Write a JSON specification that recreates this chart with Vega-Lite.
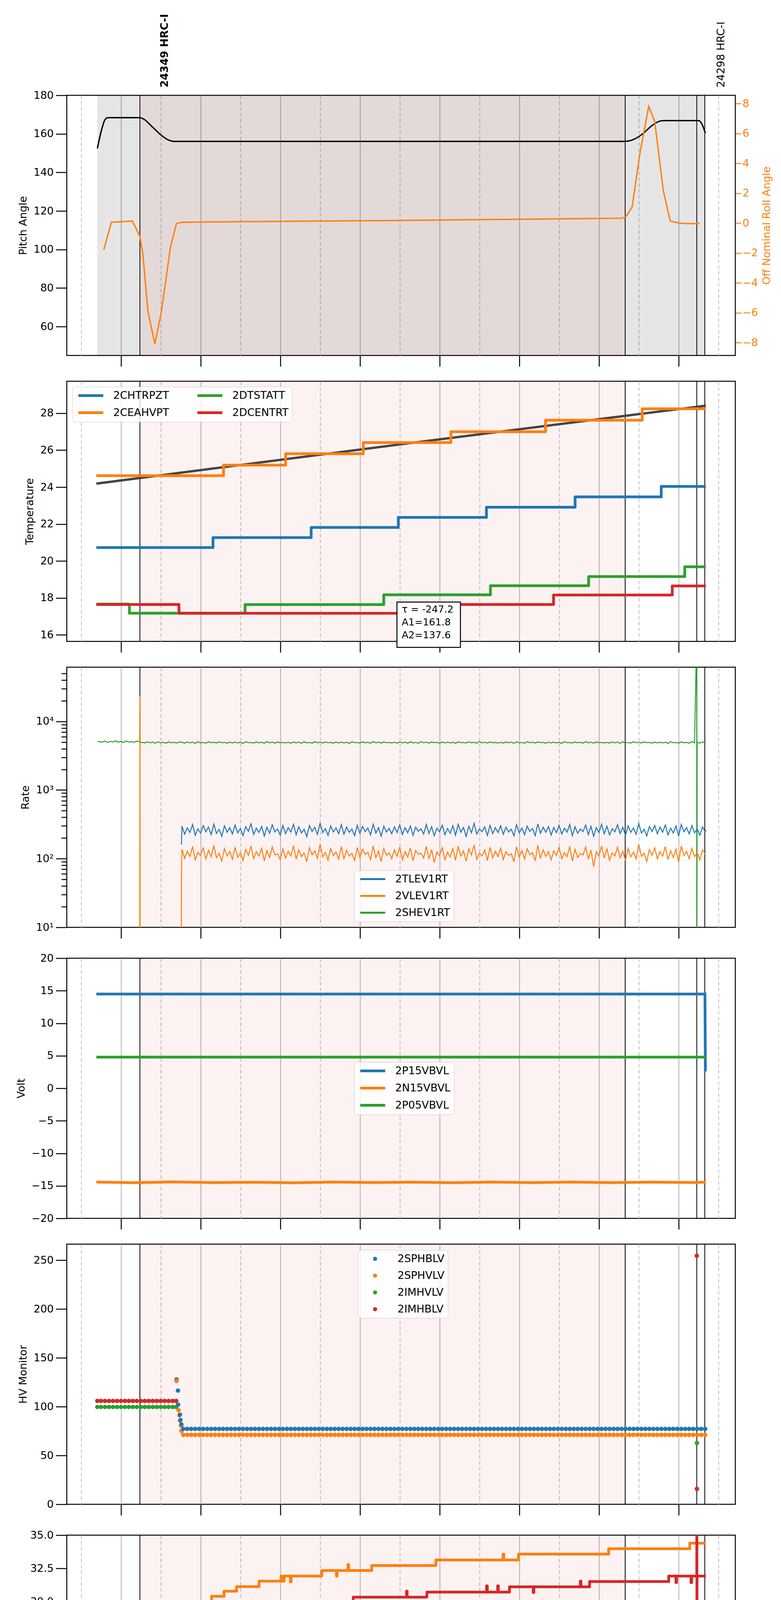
{
"$schema": "https://vega.github.io/schema/vega-lite/v6.json",
"background": "white",
"padding": {"left": 35, "top": 34, "right": 5, "bottom": 0},
"spacing": 32,
"resolve": {"scale": {"color": "independent"}, "legend": {"color": "independent"}},
"config": {
  "font": "DejaVu Sans",
  "view": {"stroke": "black", "strokeWidth": 2.5},
  "axis": {"labelFont": "DejaVu Sans", "labelFontSize": 27, "labelColor": "black", "titleFont": "DejaVu Sans", "titleFontSize": 27, "titleFontWeight": "normal", "titleColor": "black", "tickColor": "black", "tickWidth": 2.5, "tickSize": 28, "domain": false, "grid": false, "labelPadding": 6, "titlePadding": 12},
  "legend": {"labelFont": "DejaVu Sans", "labelFontSize": 27, "labelColor": "black", "fillColor": "rgba(255,255,255,0.8)", "strokeColor": "#cccccc", "cornerRadius": 8, "padding": 9, "rowPadding": 15}
},
"vconcat": [
{
  "width": 1712, "height": 666,
  "encoding": {"x": {"field": "t", "type": "temporal", "scale": {"domain": [{"year": 2021, "month": 9, "date": 10, "hours": 5, "minutes": 19, "seconds": 16}, {"year": 2021, "month": 9, "date": 10, "hours": 13, "minutes": 42, "seconds": 42}]}, "axis": {"tickCount": 17, "grid": true, "gridColor": {"condition": {"test": "minutes(datum.value)==0", "value": "#b0b0b0"}, "value": "#bdbdbd"}, "gridDash": {"condition": {"test": "minutes(datum.value)==0", "value": []}, "value": [9, 6]}, "gridWidth": 2, "tickColor": {"condition": {"test": "minutes(datum.value)==0", "value": "black"}, "value": "transparent"}, "labels": false, "title": null}}},
  "layer": [
    {"data": {"values": [{"t": "2021-09-10T05:42:17", "t2": "2021-09-10T13:19:43"}], "format": {"parse": {"t": "date", "t2": "date"}}}, "mark": {"type": "rect", "color": "black", "opacity": 0.1}, "encoding": {"x2": {"field": "t2"}}},
    {"data": {"values": [{"t": "2021-09-10T06:14:20", "t2": "2021-09-10T12:19:46"}], "format": {"parse": {"t": "date", "t2": "date"}}}, "mark": {"type": "rect", "color": "#d62728", "opacity": 0.06}, "encoding": {"x2": {"field": "t2"}}},
    {"data": {"values": [{"t": "2021-09-10T06:14:20"}, {"t": "2021-09-10T12:19:46"}, {"t": "2021-09-10T13:13:41"}, {"t": "2021-09-10T13:19:43"}], "format": {"parse": {"t": "date"}}}, "mark": {"type": "rule", "color": "black", "strokeWidth": 2}, "encoding": {}},
    {"data": {"values": [
      {"t": "2021-09-10T05:42:17", "v": 152.4}, {"t": "2021-09-10T05:45:18", "v": 161.6}, {"t": "2021-09-10T05:47:56", "v": 167.2}, {"t": "2021-09-10T05:50:12", "v": 168.4}, {"t": "2021-09-10T06:14:20", "v": 168.4}, {"t": "2021-09-10T06:17:21", "v": 167.6}, {"t": "2021-09-10T06:23:00", "v": 164.1}, {"t": "2021-09-10T06:30:33", "v": 159.2}, {"t": "2021-09-10T06:36:12", "v": 156.7}, {"t": "2021-09-10T06:39:58", "v": 156.1}, {"t": "2021-09-10T12:19:46", "v": 156.1}, {"t": "2021-09-10T12:25:47", "v": 157.0}, {"t": "2021-09-10T12:32:35", "v": 159.8}, {"t": "2021-09-10T12:40:07", "v": 164.4}, {"t": "2021-09-10T12:45:47", "v": 166.6}, {"t": "2021-09-10T12:49:33", "v": 166.9}, {"t": "2021-09-10T13:15:12", "v": 166.9}, {"t": "2021-09-10T13:17:50", "v": 164.7}, {"t": "2021-09-10T13:20:06", "v": 160.4}
    ], "format": {"parse": {"t": "date"}}}, "mark": {"type": "line", "color": "black", "strokeWidth": 3.5, "interpolate": "monotone", "clip": true}, "encoding": {"y": {"field": "v", "type": "quantitative", "scale": {"domain": [45, 180]}, "axis": {"orient": "left", "title": "Pitch Angle", "values": [60, 80, 100, 120, 140, 160, 180]}}}},
    {"data": {"values": [{"t": "2021-09-10T06:14:20", "v": 184.06, "label": "24349 HRC-I"}], "format": {"parse": {"t": "date"}}}, "mark": {"type": "text", "angle": 270, "align": "left", "baseline": "alphabetic", "dy": 72, "fontSize": 27, "fontWeight": "bold", "color": "black"}, "encoding": {"y": {"field": "v", "type": "quantitative", "scale": {"domain": [45, 180]}, "axis": null}, "text": {"field": "label"}}},
    {"data": {"values": [{"t": "2021-09-10T13:13:41", "v": 184.06, "label": "24298 HRC-I"}], "format": {"parse": {"t": "date"}}}, "mark": {"type": "text", "angle": 270, "align": "left", "baseline": "alphabetic", "dy": 71, "fontSize": 27, "color": "black"}, "encoding": {"y": {"field": "v", "type": "quantitative", "scale": {"domain": [45, 180]}, "axis": null}, "text": {"field": "label"}}},
    {"data": {"values": [
      {"t": "2021-09-10T05:47:11", "v": -1.77}, {"t": "2021-09-10T05:52:50", "v": 0.06}, {"t": "2021-09-10T06:08:40", "v": 0.14}, {"t": "2021-09-10T06:14:20", "v": -0.9}, {"t": "2021-09-10T06:16:35", "v": -2.09}, {"t": "2021-09-10T06:20:22", "v": -5.9}, {"t": "2021-09-10T06:25:38", "v": -8.08}, {"t": "2021-09-10T06:30:33", "v": -5.9}, {"t": "2021-09-10T06:37:20", "v": -1.61}, {"t": "2021-09-10T06:41:52", "v": -0.03}, {"t": "2021-09-10T06:45:38", "v": 0.06}, {"t": "2021-09-10T07:30:53", "v": 0.1}, {"t": "2021-09-10T09:31:36", "v": 0.18}, {"t": "2021-09-10T10:47:00", "v": 0.25}, {"t": "2021-09-10T12:17:30", "v": 0.33}, {"t": "2021-09-10T12:20:31", "v": 0.45}, {"t": "2021-09-10T12:25:02", "v": 1.09}, {"t": "2021-09-10T12:30:41", "v": 4.58}, {"t": "2021-09-10T12:37:29", "v": 7.81}, {"t": "2021-09-10T12:42:01", "v": 6.81}, {"t": "2021-09-10T12:48:25", "v": 2.2}, {"t": "2021-09-10T12:53:42", "v": 0.14}, {"t": "2021-09-10T13:00:52", "v": 0.0}, {"t": "2021-09-10T13:06:31", "v": -0.03}, {"t": "2021-09-10T13:15:57", "v": -0.03}
    ], "format": {"parse": {"t": "date"}}}, "mark": {"type": "line", "color": "#ff7f0e", "strokeWidth": 3.5, "clip": true}, "encoding": {"y": {"field": "v", "type": "quantitative", "scale": {"domain": [-8.85, 8.55]}, "axis": {"orient": "right", "title": "Off Nominal Roll Angle", "titleColor": "#ff7f0e", "labelColor": "#ff7f0e", "tickColor": "#ff7f0e", "values": [-8, -6, -4, -2, 0, 2, 4, 6, 8], "tickSize": 15, "labelPadding": 3, "titleAngle": 270, "titleBaseline": "top", "titlePadding": 10}}}}
  ],
  "resolve": {"scale": {"y": "independent"}}
},
{
  "width": 1712, "height": 666,
  "encoding": {"x": {"field": "t", "type": "temporal", "scale": {"domain": [{"year": 2021, "month": 9, "date": 10, "hours": 5, "minutes": 19, "seconds": 16}, {"year": 2021, "month": 9, "date": 10, "hours": 13, "minutes": 42, "seconds": 42}]}, "axis": {"tickCount": 17, "grid": true, "gridColor": {"condition": {"test": "minutes(datum.value)==0", "value": "#b0b0b0"}, "value": "#bdbdbd"}, "gridDash": {"condition": {"test": "minutes(datum.value)==0", "value": []}, "value": [9, 6]}, "gridWidth": 2, "tickColor": {"condition": {"test": "minutes(datum.value)==0", "value": "black"}, "value": "transparent"}, "labels": false, "title": null}}},
  "layer": [
    {"data": {"values": [{"t": "2021-09-10T06:14:20", "t2": "2021-09-10T12:19:46"}], "format": {"parse": {"t": "date", "t2": "date"}}}, "mark": {"type": "rect", "color": "#d62728", "opacity": 0.06}, "encoding": {"x2": {"field": "t2"}}},
    {"data": {"values": [{"t": "2021-09-10T06:14:20"}, {"t": "2021-09-10T12:19:46"}, {"t": "2021-09-10T13:13:41"}, {"t": "2021-09-10T13:19:43"}], "format": {"parse": {"t": "date"}}}, "mark": {"type": "rule", "color": "black", "strokeWidth": 2}, "encoding": {}},
    {"data": {"values": [{"t": "2021-09-10T05:41:31", "v": 24.19}, {"t": "2021-09-10T09:31:00", "v": 26.32}, {"t": "2021-09-10T13:20:29", "v": 28.41}], "format": {"parse": {"t": "date"}}}, "mark": {"type": "line", "color": "#444444", "strokeWidth": 6, "clip": true}, "encoding": {"y": {"field": "v", "type": "quantitative", "scale": {"domain": [15.65, 29.73]}, "axis": {"title": "Temperature", "values": [16, 18, 20, 22, 24, 26, 28]}}}},
    {"data": {"values": [
      {"t": "2021-09-10T05:41:31", "s": "2CHTRPZT", "v": 20.73}, {"t": "2021-09-10T07:09:23", "s": "2CHTRPZT", "v": 21.27}, {"t": "2021-09-10T08:23:18", "s": "2CHTRPZT", "v": 21.82}, {"t": "2021-09-10T09:28:56", "s": "2CHTRPZT", "v": 22.36}, {"t": "2021-09-10T10:35:18", "s": "2CHTRPZT", "v": 22.91}, {"t": "2021-09-10T11:42:03", "s": "2CHTRPZT", "v": 23.47}, {"t": "2021-09-10T12:46:55", "s": "2CHTRPZT", "v": 24.04}, {"t": "2021-09-10T13:20:29", "s": "2CHTRPZT", "v": 24.04},
      {"t": "2021-09-10T05:41:31", "s": "2CEAHVPT", "v": 24.62}, {"t": "2021-09-10T07:17:19", "s": "2CEAHVPT", "v": 25.19}, {"t": "2021-09-10T08:04:04", "s": "2CEAHVPT", "v": 25.81}, {"t": "2021-09-10T09:02:32", "s": "2CEAHVPT", "v": 26.41}, {"t": "2021-09-10T10:08:31", "s": "2CEAHVPT", "v": 27.0}, {"t": "2021-09-10T11:19:48", "s": "2CEAHVPT", "v": 27.62}, {"t": "2021-09-10T12:32:35", "s": "2CEAHVPT", "v": 28.24}, {"t": "2021-09-10T13:20:29", "s": "2CEAHVPT", "v": 28.24},
      {"t": "2021-09-10T05:41:31", "s": "2DTSTATT", "v": 17.67}, {"t": "2021-09-10T06:06:25", "s": "2DTSTATT", "v": 17.18}, {"t": "2021-09-10T07:33:32", "s": "2DTSTATT", "v": 17.64}, {"t": "2021-09-10T09:17:59", "s": "2DTSTATT", "v": 18.17}, {"t": "2021-09-10T10:38:19", "s": "2DTSTATT", "v": 18.66}, {"t": "2021-09-10T11:52:14", "s": "2DTSTATT", "v": 19.16}, {"t": "2021-09-10T13:04:38", "s": "2DTSTATT", "v": 19.69}, {"t": "2021-09-10T13:20:29", "s": "2DTSTATT", "v": 19.69},
      {"t": "2021-09-10T05:41:31", "s": "2DCENTRT", "v": 17.65}, {"t": "2021-09-10T06:43:45", "s": "2DCENTRT", "v": 17.17}, {"t": "2021-09-10T09:54:00", "s": "2DCENTRT", "v": 17.65}, {"t": "2021-09-10T11:25:50", "s": "2DCENTRT", "v": 18.16}, {"t": "2021-09-10T12:55:13", "s": "2DCENTRT", "v": 18.65}, {"t": "2021-09-10T13:20:29", "s": "2DCENTRT", "v": 18.65}
    ], "format": {"parse": {"t": "date"}}}, "mark": {"type": "line", "strokeWidth": 7, "interpolate": "step-after", "strokeJoin": "round", "clip": true}, "encoding": {"y": {"field": "v", "type": "quantitative", "scale": {"domain": [15.65, 29.73]}, "axis": {"title": "Temperature", "values": [16, 18, 20, 22, 24, 26, 28]}}, "color": {"field": "s", "type": "nominal", "scale": {"domain": ["2CHTRPZT", "2CEAHVPT", "2DTSTATT", "2DCENTRT"], "range": ["#1f77b4", "#ff7f0e", "#2ca02c", "#d62728"]}, "legend": {"title": null, "orient": "none", "legendX": 14, "legendY": 14, "columns": 2, "columnPadding": 57, "symbolType": "M-1,0H8.14", "symbolSize": 196, "symbolStrokeWidth": 7, "labelOffset": 69}}}},
    {"data": {"values": [{"t": "2021-09-10T09:27:54", "t2": "2021-09-10T10:15:42", "y": 17.78, "y2": 15.33}], "format": {"parse": {"t": "date", "t2": "date"}}}, "mark": {"type": "rect", "fill": "white", "stroke": "black", "strokeWidth": 2.5}, "encoding": {"x2": {"field": "t2"}, "y": {"field": "y", "type": "quantitative", "scale": {"domain": [15.65, 29.73]}, "axis": {"title": "Temperature", "values": [16, 18, 20, 22, 24, 26, 28]}}, "y2": {"field": "y2"}}},
    {"data": {"values": [{"t": "2021-09-10T09:31:30", "y": 17.64, "label": "τ = -247.2\nA1=161.8\nA2=137.6"}], "format": {"parse": {"t": "date"}}}, "mark": {"type": "text", "align": "left", "baseline": "top", "fontSize": 25, "lineHeight": 33, "lineBreak": "\n", "color": "black"}, "encoding": {"y": {"field": "y", "type": "quantitative", "scale": {"domain": [15.65, 29.73]}, "axis": {"title": "Temperature", "values": [16, 18, 20, 22, 24, 26, 28]}}, "text": {"field": "label"}}}
  ]
},
{
  "width": 1712, "height": 666,
  "encoding": {"x": {"field": "t", "type": "temporal", "scale": {"domain": [{"year": 2021, "month": 9, "date": 10, "hours": 5, "minutes": 19, "seconds": 16}, {"year": 2021, "month": 9, "date": 10, "hours": 13, "minutes": 42, "seconds": 42}]}, "axis": {"tickCount": 17, "grid": true, "gridColor": {"condition": {"test": "minutes(datum.value)==0", "value": "#b0b0b0"}, "value": "#bdbdbd"}, "gridDash": {"condition": {"test": "minutes(datum.value)==0", "value": []}, "value": [9, 6]}, "gridWidth": 2, "tickColor": {"condition": {"test": "minutes(datum.value)==0", "value": "black"}, "value": "transparent"}, "labels": false, "title": null}}},
  "layer": [
    {"data": {"values": [{"t": "2021-09-10T06:14:20", "t2": "2021-09-10T12:19:46"}], "format": {"parse": {"t": "date", "t2": "date"}}}, "mark": {"type": "rect", "color": "#d62728", "opacity": 0.06}, "encoding": {"x2": {"field": "t2"}}},
    {"data": {"values": [{"t": "2021-09-10T06:14:20"}, {"t": "2021-09-10T12:19:46"}, {"t": "2021-09-10T13:13:41"}, {"t": "2021-09-10T13:19:43"}], "format": {"parse": {"t": "date"}}}, "mark": {"type": "rule", "color": "black", "strokeWidth": 2}, "encoding": {}},
    {"data": {"values": [
      {"t": "2021-09-10T05:42:17", "2SHEV1RT": 5080}, {"t": "2021-09-10T05:46:00", "2SHEV1RT": 4990}, {"t": "2021-09-10T05:48:00", "2SHEV1RT": 5160}, {"t": "2021-09-10T05:50:00", "2SHEV1RT": 4940}, {"t": "2021-09-10T05:52:00", "2SHEV1RT": 5120}, {"t": "2021-09-10T05:54:00", "2SHEV1RT": 5000}, {"t": "2021-09-10T05:56:00", "2SHEV1RT": 5210}, {"t": "2021-09-10T05:58:00", "2SHEV1RT": 4960}, {"t": "2021-09-10T06:00:00", "2SHEV1RT": 5100}, {"t": "2021-09-10T06:02:00", "2SHEV1RT": 4920}, {"t": "2021-09-10T06:04:00", "2SHEV1RT": 5180}, {"t": "2021-09-10T06:06:00", "2SHEV1RT": 4980}, {"t": "2021-09-10T06:08:00", "2SHEV1RT": 5070}, {"t": "2021-09-10T06:10:00", "2SHEV1RT": 4950}, {"t": "2021-09-10T06:12:00", "2SHEV1RT": 5150},
      {"t": "2021-09-10T06:14:10", "2SHEV1RT": 5050, "2VLEV1RT": 1}, {"t": "2021-09-10T06:14:20", "2SHEV1RT": 21700, "2VLEV1RT": 23000}, {"t": "2021-09-10T06:14:30", "2SHEV1RT": 4900, "2VLEV1RT": 1},
      {"t": "2021-09-10T06:16:00", "2SHEV1RT": 4960}, {"t": "2021-09-10T06:18:00", "2SHEV1RT": 4850}, {"t": "2021-09-10T06:20:00", "2SHEV1RT": 5020}, {"t": "2021-09-10T06:22:00", "2SHEV1RT": 4880}, {"t": "2021-09-10T06:24:00", "2SHEV1RT": 4990}, {"t": "2021-09-10T06:26:00", "2SHEV1RT": 4810}, {"t": "2021-09-10T06:28:00", "2SHEV1RT": 5040}, {"t": "2021-09-10T06:30:00", "2SHEV1RT": 4870}, {"t": "2021-09-10T06:32:00", "2SHEV1RT": 4950}, {"t": "2021-09-10T06:34:00", "2SHEV1RT": 4800}, {"t": "2021-09-10T06:36:00", "2SHEV1RT": 5030}, {"t": "2021-09-10T06:38:00", "2SHEV1RT": 4860}, {"t": "2021-09-10T06:40:00", "2SHEV1RT": 4970}, {"t": "2021-09-10T06:42:00", "2SHEV1RT": 4830}, {"t": "2021-09-10T06:44:00", "2SHEV1RT": 5000},
      {"t": "2021-09-10T06:45:30", "2VLEV1RT": 1}, {"t": "2021-09-10T06:45:38", "2TLEV1RT": 160, "2VLEV1RT": 53},
      {"t": "2021-09-10T06:46:00", "2TLEV1RT": 298, "2VLEV1RT": 138, "2SHEV1RT": 4950}, {"t": "2021-09-10T06:48:00", "2TLEV1RT": 228, "2VLEV1RT": 101, "2SHEV1RT": 4820}, {"t": "2021-09-10T06:50:00", "2TLEV1RT": 281, "2VLEV1RT": 129, "2SHEV1RT": 5010}, {"t": "2021-09-10T06:52:00", "2TLEV1RT": 241, "2VLEV1RT": 108, "2SHEV1RT": 4870}, {"t": "2021-09-10T06:54:00", "2TLEV1RT": 315, "2VLEV1RT": 151, "2SHEV1RT": 4980}, {"t": "2021-09-10T06:56:00", "2TLEV1RT": 219, "2VLEV1RT": 96, "2SHEV1RT": 4790}, {"t": "2021-09-10T06:58:00", "2TLEV1RT": 272, "2VLEV1RT": 124, "2SHEV1RT": 5040},
      {"t": "2021-09-10T07:00:00", "2TLEV1RT": 236, "2VLEV1RT": 111, "2SHEV1RT": 4860}, {"t": "2021-09-10T07:02:00", "2TLEV1RT": 304, "2VLEV1RT": 144, "2SHEV1RT": 4930}, {"t": "2021-09-10T07:04:00", "2TLEV1RT": 247, "2VLEV1RT": 99, "2SHEV1RT": 4810}, {"t": "2021-09-10T07:06:00", "2TLEV1RT": 289, "2VLEV1RT": 133, "2SHEV1RT": 5060}, {"t": "2021-09-10T07:08:00", "2TLEV1RT": 224, "2VLEV1RT": 106, "2SHEV1RT": 4880}, {"t": "2021-09-10T07:10:00", "2TLEV1RT": 318, "2VLEV1RT": 156, "2SHEV1RT": 4970}, {"t": "2021-09-10T07:12:00", "2TLEV1RT": 233, "2VLEV1RT": 103, "2SHEV1RT": 4830}, {"t": "2021-09-10T07:14:00", "2TLEV1RT": 266, "2VLEV1RT": 119, "2SHEV1RT": 5020}, {"t": "2021-09-10T07:16:00", "2TLEV1RT": 212, "2VLEV1RT": 92, "2SHEV1RT": 4900}, {"t": "2021-09-10T07:18:00", "2TLEV1RT": 301, "2VLEV1RT": 141, "2SHEV1RT": 4940}, {"t": "2021-09-10T07:20:00", "2TLEV1RT": 243, "2VLEV1RT": 110, "2SHEV1RT": 4800}, {"t": "2021-09-10T07:22:00", "2TLEV1RT": 284, "2VLEV1RT": 127, "2SHEV1RT": 5000}, {"t": "2021-09-10T07:24:00", "2TLEV1RT": 229, "2VLEV1RT": 98, "2SHEV1RT": 4850}, {"t": "2021-09-10T07:26:00", "2TLEV1RT": 309, "2VLEV1RT": 147, "2SHEV1RT": 4990}, {"t": "2021-09-10T07:28:00", "2TLEV1RT": 238, "2VLEV1RT": 105, "2SHEV1RT": 4840}, {"t": "2021-09-10T07:30:00", "2TLEV1RT": 275, "2VLEV1RT": 122, "2SHEV1RT": 4960}, {"t": "2021-09-10T07:32:00", "2TLEV1RT": 217, "2VLEV1RT": 94, "2SHEV1RT": 4780}, {"t": "2021-09-10T07:34:00", "2TLEV1RT": 293, "2VLEV1RT": 136, "2SHEV1RT": 5050}, {"t": "2021-09-10T07:36:00", "2TLEV1RT": 250, "2VLEV1RT": 112, "2SHEV1RT": 4890}, {"t": "2021-09-10T07:38:00", "2TLEV1RT": 322, "2VLEV1RT": 153, "2SHEV1RT": 4920}, {"t": "2021-09-10T07:40:00", "2TLEV1RT": 226, "2VLEV1RT": 100, "2SHEV1RT": 4830}, {"t": "2021-09-10T07:42:00", "2TLEV1RT": 279, "2VLEV1RT": 126, "2SHEV1RT": 5030}, {"t": "2021-09-10T07:44:00", "2TLEV1RT": 241, "2VLEV1RT": 109, "2SHEV1RT": 4870}, {"t": "2021-09-10T07:46:00", "2TLEV1RT": 296, "2VLEV1RT": 142, "2SHEV1RT": 4950}, {"t": "2021-09-10T07:48:00", "2TLEV1RT": 214, "2VLEV1RT": 93, "2SHEV1RT": 4810}, {"t": "2021-09-10T07:50:00", "2TLEV1RT": 287, "2VLEV1RT": 131, "2SHEV1RT": 5070}, {"t": "2021-09-10T07:52:00", "2TLEV1RT": 235, "2VLEV1RT": 104, "2SHEV1RT": 4860}, {"t": "2021-09-10T07:54:00", "2TLEV1RT": 312, "2VLEV1RT": 149, "2SHEV1RT": 4980}, {"t": "2021-09-10T07:56:00", "2TLEV1RT": 246, "2VLEV1RT": 113, "2SHEV1RT": 4820}, {"t": "2021-09-10T07:58:00", "2TLEV1RT": 270, "2VLEV1RT": 118, "2SHEV1RT": 5010},
      {"t": "2021-09-10T08:00:00", "2TLEV1RT": 221, "2VLEV1RT": 97, "2SHEV1RT": 4900}, {"t": "2021-09-10T08:02:00", "2TLEV1RT": 305, "2VLEV1RT": 139, "2SHEV1RT": 4930}, {"t": "2021-09-10T08:04:00", "2TLEV1RT": 232, "2VLEV1RT": 102, "2SHEV1RT": 4840}, {"t": "2021-09-10T08:06:00", "2TLEV1RT": 283, "2VLEV1RT": 128, "2SHEV1RT": 4950}, {"t": "2021-09-10T08:08:00", "2TLEV1RT": 244, "2VLEV1RT": 110, "2SHEV1RT": 4820}, {"t": "2021-09-10T08:10:00", "2TLEV1RT": 317, "2VLEV1RT": 155, "2SHEV1RT": 5010}, {"t": "2021-09-10T08:12:00", "2TLEV1RT": 223, "2VLEV1RT": 98, "2SHEV1RT": 4870}, {"t": "2021-09-10T08:14:00", "2TLEV1RT": 291, "2VLEV1RT": 134, "2SHEV1RT": 4980}, {"t": "2021-09-10T08:16:00", "2TLEV1RT": 237, "2VLEV1RT": 107, "2SHEV1RT": 4790}, {"t": "2021-09-10T08:18:00", "2TLEV1RT": 268, "2VLEV1RT": 121, "2SHEV1RT": 5040}, {"t": "2021-09-10T08:20:00", "2TLEV1RT": 210, "2VLEV1RT": 90, "2SHEV1RT": 4860}, {"t": "2021-09-10T08:22:00", "2TLEV1RT": 303, "2VLEV1RT": 145, "2SHEV1RT": 4930}, {"t": "2021-09-10T08:24:00", "2TLEV1RT": 249, "2VLEV1RT": 114, "2SHEV1RT": 4810}, {"t": "2021-09-10T08:26:00", "2TLEV1RT": 286, "2VLEV1RT": 130, "2SHEV1RT": 5060}, {"t": "2021-09-10T08:28:00", "2TLEV1RT": 226, "2VLEV1RT": 101, "2SHEV1RT": 4880}, {"t": "2021-09-10T08:30:00", "2TLEV1RT": 330, "2VLEV1RT": 162, "2SHEV1RT": 4970}, {"t": "2021-09-10T08:32:00", "2TLEV1RT": 239, "2VLEV1RT": 106, "2SHEV1RT": 4830}, {"t": "2021-09-10T08:34:00", "2TLEV1RT": 274, "2VLEV1RT": 123, "2SHEV1RT": 5020}, {"t": "2021-09-10T08:36:00", "2TLEV1RT": 218, "2VLEV1RT": 95, "2SHEV1RT": 4900}, {"t": "2021-09-10T08:38:00", "2TLEV1RT": 299, "2VLEV1RT": 140, "2SHEV1RT": 4940}, {"t": "2021-09-10T08:40:00", "2TLEV1RT": 245, "2VLEV1RT": 111, "2SHEV1RT": 4800}, {"t": "2021-09-10T08:42:00", "2TLEV1RT": 281, "2VLEV1RT": 125, "2SHEV1RT": 5000}, {"t": "2021-09-10T08:44:00", "2TLEV1RT": 231, "2VLEV1RT": 99, "2SHEV1RT": 4850}, {"t": "2021-09-10T08:46:00", "2TLEV1RT": 314, "2VLEV1RT": 150, "2SHEV1RT": 4990}, {"t": "2021-09-10T08:48:00", "2TLEV1RT": 227, "2VLEV1RT": 100, "2SHEV1RT": 4840}, {"t": "2021-09-10T08:50:00", "2TLEV1RT": 289, "2VLEV1RT": 133, "2SHEV1RT": 4960}, {"t": "2021-09-10T08:52:00", "2TLEV1RT": 242, "2VLEV1RT": 109, "2SHEV1RT": 4780}, {"t": "2021-09-10T08:54:00", "2TLEV1RT": 270, "2VLEV1RT": 119, "2SHEV1RT": 5050}, {"t": "2021-09-10T08:56:00", "2TLEV1RT": 216, "2VLEV1RT": 94, "2SHEV1RT": 4890}, {"t": "2021-09-10T08:58:00", "2TLEV1RT": 307, "2VLEV1RT": 146, "2SHEV1RT": 4920},
      {"t": "2021-09-10T09:00:00", "2TLEV1RT": 234, "2VLEV1RT": 104, "2SHEV1RT": 4830}, {"t": "2021-09-10T09:02:00", "2TLEV1RT": 295, "2VLEV1RT": 137, "2SHEV1RT": 5030}, {"t": "2021-09-10T09:04:00", "2TLEV1RT": 248, "2VLEV1RT": 115, "2SHEV1RT": 4870}, {"t": "2021-09-10T09:06:00", "2TLEV1RT": 279, "2VLEV1RT": 124, "2SHEV1RT": 4950}, {"t": "2021-09-10T09:08:00", "2TLEV1RT": 222, "2VLEV1RT": 97, "2SHEV1RT": 4810}, {"t": "2021-09-10T09:10:00", "2TLEV1RT": 319, "2VLEV1RT": 154, "2SHEV1RT": 5070}, {"t": "2021-09-10T09:12:00", "2TLEV1RT": 236, "2VLEV1RT": 103, "2SHEV1RT": 4860}, {"t": "2021-09-10T09:14:00", "2TLEV1RT": 284, "2VLEV1RT": 129, "2SHEV1RT": 4980}, {"t": "2021-09-10T09:16:00", "2TLEV1RT": 213, "2VLEV1RT": 91, "2SHEV1RT": 4820}, {"t": "2021-09-10T09:18:00", "2TLEV1RT": 297, "2VLEV1RT": 141, "2SHEV1RT": 5010}, {"t": "2021-09-10T09:20:00", "2TLEV1RT": 244, "2VLEV1RT": 112, "2SHEV1RT": 4900}, {"t": "2021-09-10T09:22:00", "2TLEV1RT": 276, "2VLEV1RT": 122, "2SHEV1RT": 4930}, {"t": "2021-09-10T09:24:00", "2TLEV1RT": 230, "2VLEV1RT": 100, "2SHEV1RT": 4840}, {"t": "2021-09-10T09:26:00", "2TLEV1RT": 292, "2VLEV1RT": 135, "2SHEV1RT": 4950}, {"t": "2021-09-10T09:28:00", "2TLEV1RT": 240, "2VLEV1RT": 108, "2SHEV1RT": 4820}, {"t": "2021-09-10T09:30:00", "2TLEV1RT": 311, "2VLEV1RT": 148, "2SHEV1RT": 5010}, {"t": "2021-09-10T09:32:00", "2TLEV1RT": 225, "2VLEV1RT": 96, "2SHEV1RT": 4870}, {"t": "2021-09-10T09:34:00", "2TLEV1RT": 282, "2VLEV1RT": 127, "2SHEV1RT": 4980}, {"t": "2021-09-10T09:36:00", "2TLEV1RT": 238, "2VLEV1RT": 105, "2SHEV1RT": 4790}, {"t": "2021-09-10T09:38:00", "2TLEV1RT": 300, "2VLEV1RT": 143, "2SHEV1RT": 5040}, {"t": "2021-09-10T09:40:00", "2TLEV1RT": 219, "2VLEV1RT": 93, "2SHEV1RT": 4860}, {"t": "2021-09-10T09:42:00", "2TLEV1RT": 288, "2VLEV1RT": 132, "2SHEV1RT": 4930}, {"t": "2021-09-10T09:44:00", "2TLEV1RT": 251, "2VLEV1RT": 116, "2SHEV1RT": 4810}, {"t": "2021-09-10T09:46:00", "2TLEV1RT": 272, "2VLEV1RT": 120, "2SHEV1RT": 5060}, {"t": "2021-09-10T09:48:00", "2TLEV1RT": 228, "2VLEV1RT": 102, "2SHEV1RT": 4880}, {"t": "2021-09-10T09:50:00", "2TLEV1RT": 316, "2VLEV1RT": 152, "2SHEV1RT": 4970}, {"t": "2021-09-10T09:52:00", "2TLEV1RT": 233, "2VLEV1RT": 99, "2SHEV1RT": 4830}, {"t": "2021-09-10T09:54:00", "2TLEV1RT": 293, "2VLEV1RT": 136, "2SHEV1RT": 5020}, {"t": "2021-09-10T09:56:00", "2TLEV1RT": 215, "2VLEV1RT": 88, "2SHEV1RT": 4900}, {"t": "2021-09-10T09:58:00", "2TLEV1RT": 279, "2VLEV1RT": 125, "2SHEV1RT": 4940},
      {"t": "2021-09-10T10:00:00", "2TLEV1RT": 246, "2VLEV1RT": 111, "2SHEV1RT": 4800}, {"t": "2021-09-10T10:02:00", "2TLEV1RT": 308, "2VLEV1RT": 145, "2SHEV1RT": 5000}, {"t": "2021-09-10T10:04:00", "2TLEV1RT": 224, "2VLEV1RT": 97, "2SHEV1RT": 4850}, {"t": "2021-09-10T10:06:00", "2TLEV1RT": 276, "2VLEV1RT": 124, "2SHEV1RT": 4990}, {"t": "2021-09-10T10:08:00", "2TLEV1RT": 235, "2VLEV1RT": 106, "2SHEV1RT": 4840}, {"t": "2021-09-10T10:10:00", "2TLEV1RT": 302, "2VLEV1RT": 141, "2SHEV1RT": 4960}, {"t": "2021-09-10T10:12:00", "2TLEV1RT": 220, "2VLEV1RT": 95, "2SHEV1RT": 4780}, {"t": "2021-09-10T10:14:00", "2TLEV1RT": 317, "2VLEV1RT": 152, "2SHEV1RT": 5050}, {"t": "2021-09-10T10:16:00", "2TLEV1RT": 243, "2VLEV1RT": 109, "2SHEV1RT": 4890}, {"t": "2021-09-10T10:18:00", "2TLEV1RT": 285, "2VLEV1RT": 130, "2SHEV1RT": 4920}, {"t": "2021-09-10T10:20:00", "2TLEV1RT": 211, "2VLEV1RT": 92, "2SHEV1RT": 4830}, {"t": "2021-09-10T10:22:00", "2TLEV1RT": 296, "2VLEV1RT": 139, "2SHEV1RT": 5030}, {"t": "2021-09-10T10:24:00", "2TLEV1RT": 238, "2VLEV1RT": 113, "2SHEV1RT": 4870}, {"t": "2021-09-10T10:26:00", "2TLEV1RT": 327, "2VLEV1RT": 158, "2SHEV1RT": 4950}, {"t": "2021-09-10T10:28:00", "2TLEV1RT": 229, "2VLEV1RT": 98, "2SHEV1RT": 4810}, {"t": "2021-09-10T10:30:00", "2TLEV1RT": 271, "2VLEV1RT": 121, "2SHEV1RT": 5070}, {"t": "2021-09-10T10:32:00", "2TLEV1RT": 247, "2VLEV1RT": 110, "2SHEV1RT": 4860}, {"t": "2021-09-10T10:34:00", "2TLEV1RT": 290, "2VLEV1RT": 134, "2SHEV1RT": 4980}, {"t": "2021-09-10T10:36:00", "2TLEV1RT": 218, "2VLEV1RT": 94, "2SHEV1RT": 4820}, {"t": "2021-09-10T10:38:00", "2TLEV1RT": 306, "2VLEV1RT": 147, "2SHEV1RT": 5010}, {"t": "2021-09-10T10:40:00", "2TLEV1RT": 232, "2VLEV1RT": 103, "2SHEV1RT": 4900}, {"t": "2021-09-10T10:42:00", "2TLEV1RT": 283, "2VLEV1RT": 128, "2SHEV1RT": 4930}, {"t": "2021-09-10T10:44:00", "2TLEV1RT": 241, "2VLEV1RT": 107, "2SHEV1RT": 4840}, {"t": "2021-09-10T10:46:00", "2TLEV1RT": 301, "2VLEV1RT": 143, "2SHEV1RT": 4950}, {"t": "2021-09-10T10:48:00", "2TLEV1RT": 226, "2VLEV1RT": 97, "2SHEV1RT": 4820}, {"t": "2021-09-10T10:50:00", "2TLEV1RT": 288, "2VLEV1RT": 126, "2SHEV1RT": 5010}, {"t": "2021-09-10T10:52:00", "2TLEV1RT": 245, "2VLEV1RT": 112, "2SHEV1RT": 4870}, {"t": "2021-09-10T10:54:00", "2TLEV1RT": 269, "2VLEV1RT": 118, "2SHEV1RT": 4980}, {"t": "2021-09-10T10:56:00", "2TLEV1RT": 214, "2VLEV1RT": 90, "2SHEV1RT": 4790}, {"t": "2021-09-10T10:58:00", "2TLEV1RT": 313, "2VLEV1RT": 149, "2SHEV1RT": 5040},
      {"t": "2021-09-10T11:00:00", "2TLEV1RT": 237, "2VLEV1RT": 105, "2SHEV1RT": 4860}, {"t": "2021-09-10T11:02:00", "2TLEV1RT": 280, "2VLEV1RT": 131, "2SHEV1RT": 4930}, {"t": "2021-09-10T11:04:00", "2TLEV1RT": 223, "2VLEV1RT": 99, "2SHEV1RT": 4810}, {"t": "2021-09-10T11:06:00", "2TLEV1RT": 298, "2VLEV1RT": 140, "2SHEV1RT": 5060}, {"t": "2021-09-10T11:08:00", "2TLEV1RT": 250, "2VLEV1RT": 114, "2SHEV1RT": 4880}, {"t": "2021-09-10T11:10:00", "2TLEV1RT": 275, "2VLEV1RT": 123, "2SHEV1RT": 4970}, {"t": "2021-09-10T11:12:00", "2TLEV1RT": 217, "2VLEV1RT": 93, "2SHEV1RT": 4830}, {"t": "2021-09-10T11:14:00", "2TLEV1RT": 321, "2VLEV1RT": 157, "2SHEV1RT": 5020}, {"t": "2021-09-10T11:16:00", "2TLEV1RT": 234, "2VLEV1RT": 101, "2SHEV1RT": 4900}, {"t": "2021-09-10T11:18:00", "2TLEV1RT": 287, "2VLEV1RT": 135, "2SHEV1RT": 4940}, {"t": "2021-09-10T11:20:00", "2TLEV1RT": 242, "2VLEV1RT": 108, "2SHEV1RT": 4800}, {"t": "2021-09-10T11:22:00", "2TLEV1RT": 294, "2VLEV1RT": 127, "2SHEV1RT": 5000}, {"t": "2021-09-10T11:24:00", "2TLEV1RT": 221, "2VLEV1RT": 96, "2SHEV1RT": 4850}, {"t": "2021-09-10T11:26:00", "2TLEV1RT": 285, "2VLEV1RT": 130, "2SHEV1RT": 4990}, {"t": "2021-09-10T11:28:00", "2TLEV1RT": 239, "2VLEV1RT": 111, "2SHEV1RT": 4840}, {"t": "2021-09-10T11:30:00", "2TLEV1RT": 306, "2VLEV1RT": 146, "2SHEV1RT": 4960}, {"t": "2021-09-10T11:32:00", "2TLEV1RT": 228, "2VLEV1RT": 100, "2SHEV1RT": 4780}, {"t": "2021-09-10T11:34:00", "2TLEV1RT": 278, "2VLEV1RT": 122, "2SHEV1RT": 5050}, {"t": "2021-09-10T11:36:00", "2TLEV1RT": 244, "2VLEV1RT": 107, "2SHEV1RT": 4890}, {"t": "2021-09-10T11:38:00", "2TLEV1RT": 315, "2VLEV1RT": 151, "2SHEV1RT": 4920}, {"t": "2021-09-10T11:40:00", "2TLEV1RT": 216, "2VLEV1RT": 92, "2SHEV1RT": 4830}, {"t": "2021-09-10T11:42:00", "2TLEV1RT": 292, "2VLEV1RT": 137, "2SHEV1RT": 5030}, {"t": "2021-09-10T11:44:00", "2TLEV1RT": 235, "2VLEV1RT": 104, "2SHEV1RT": 4870}, {"t": "2021-09-10T11:46:00", "2TLEV1RT": 270, "2VLEV1RT": 119, "2SHEV1RT": 4950}, {"t": "2021-09-10T11:48:00", "2TLEV1RT": 248, "2VLEV1RT": 113, "2SHEV1RT": 4810}, {"t": "2021-09-10T11:50:00", "2TLEV1RT": 309, "2VLEV1RT": 148, "2SHEV1RT": 5070}, {"t": "2021-09-10T11:52:00", "2TLEV1RT": 225, "2VLEV1RT": 98, "2SHEV1RT": 4860}, {"t": "2021-09-10T11:54:00", "2TLEV1RT": 296, "2VLEV1RT": 133, "2SHEV1RT": 4980}, {"t": "2021-09-10T11:56:00", "2TLEV1RT": 212, "2VLEV1RT": 76, "2SHEV1RT": 4820}, {"t": "2021-09-10T11:58:00", "2TLEV1RT": 283, "2VLEV1RT": 126, "2SHEV1RT": 5010},
      {"t": "2021-09-10T12:00:00", "2TLEV1RT": 240, "2VLEV1RT": 109, "2SHEV1RT": 4900}, {"t": "2021-09-10T12:02:00", "2TLEV1RT": 318, "2VLEV1RT": 153, "2SHEV1RT": 4930}, {"t": "2021-09-10T12:04:00", "2TLEV1RT": 231, "2VLEV1RT": 102, "2SHEV1RT": 4840}, {"t": "2021-09-10T12:06:00", "2TLEV1RT": 297, "2VLEV1RT": 139, "2SHEV1RT": 4950}, {"t": "2021-09-10T12:08:00", "2TLEV1RT": 222, "2VLEV1RT": 95, "2SHEV1RT": 4820}, {"t": "2021-09-10T12:10:00", "2TLEV1RT": 274, "2VLEV1RT": 121, "2SHEV1RT": 5010}, {"t": "2021-09-10T12:12:00", "2TLEV1RT": 246, "2VLEV1RT": 110, "2SHEV1RT": 4870}, {"t": "2021-09-10T12:14:00", "2TLEV1RT": 312, "2VLEV1RT": 147, "2SHEV1RT": 4980}, {"t": "2021-09-10T12:16:00", "2TLEV1RT": 233, "2VLEV1RT": 103, "2SHEV1RT": 4790}, {"t": "2021-09-10T12:18:00", "2TLEV1RT": 287, "2VLEV1RT": 129, "2SHEV1RT": 5040}, {"t": "2021-09-10T12:20:00", "2TLEV1RT": 219, "2VLEV1RT": 94, "2SHEV1RT": 4860}, {"t": "2021-09-10T12:22:00", "2TLEV1RT": 301, "2VLEV1RT": 142, "2SHEV1RT": 4930}, {"t": "2021-09-10T12:24:00", "2TLEV1RT": 242, "2VLEV1RT": 106, "2SHEV1RT": 4810}, {"t": "2021-09-10T12:26:00", "2TLEV1RT": 280, "2VLEV1RT": 125, "2SHEV1RT": 5060}, {"t": "2021-09-10T12:28:00", "2TLEV1RT": 227, "2VLEV1RT": 99, "2SHEV1RT": 4880}, {"t": "2021-09-10T12:30:00", "2TLEV1RT": 325, "2VLEV1RT": 160, "2SHEV1RT": 4970}, {"t": "2021-09-10T12:32:00", "2TLEV1RT": 236, "2VLEV1RT": 108, "2SHEV1RT": 4830}, {"t": "2021-09-10T12:34:00", "2TLEV1RT": 268, "2VLEV1RT": 120, "2SHEV1RT": 5020}, {"t": "2021-09-10T12:36:00", "2TLEV1RT": 215, "2VLEV1RT": 91, "2SHEV1RT": 4900}, {"t": "2021-09-10T12:38:00", "2TLEV1RT": 294, "2VLEV1RT": 136, "2SHEV1RT": 4940}, {"t": "2021-09-10T12:40:00", "2TLEV1RT": 249, "2VLEV1RT": 112, "2SHEV1RT": 4800}, {"t": "2021-09-10T12:42:00", "2TLEV1RT": 305, "2VLEV1RT": 144, "2SHEV1RT": 5000}, {"t": "2021-09-10T12:44:00", "2TLEV1RT": 230, "2VLEV1RT": 100, "2SHEV1RT": 4850}, {"t": "2021-09-10T12:46:00", "2TLEV1RT": 288, "2VLEV1RT": 127, "2SHEV1RT": 4990}, {"t": "2021-09-10T12:48:00", "2TLEV1RT": 243, "2VLEV1RT": 109, "2SHEV1RT": 4840}, {"t": "2021-09-10T12:50:00", "2TLEV1RT": 310, "2VLEV1RT": 150, "2SHEV1RT": 4960}, {"t": "2021-09-10T12:52:00", "2TLEV1RT": 221, "2VLEV1RT": 97, "2SHEV1RT": 4780}, {"t": "2021-09-10T12:54:00", "2TLEV1RT": 279, "2VLEV1RT": 131, "2SHEV1RT": 5050}, {"t": "2021-09-10T12:56:00", "2TLEV1RT": 236, "2VLEV1RT": 104, "2SHEV1RT": 4890}, {"t": "2021-09-10T12:58:00", "2TLEV1RT": 299, "2VLEV1RT": 138, "2SHEV1RT": 4920},
      {"t": "2021-09-10T13:00:00", "2TLEV1RT": 214, "2VLEV1RT": 89, "2SHEV1RT": 4830}, {"t": "2021-09-10T13:02:00", "2TLEV1RT": 316, "2VLEV1RT": 153, "2SHEV1RT": 5030}, {"t": "2021-09-10T13:04:00", "2TLEV1RT": 247, "2VLEV1RT": 111, "2SHEV1RT": 4870}, {"t": "2021-09-10T13:06:00", "2TLEV1RT": 284, "2VLEV1RT": 128, "2SHEV1RT": 4950}, {"t": "2021-09-10T13:08:00", "2TLEV1RT": 229, "2VLEV1RT": 100, "2SHEV1RT": 4810}, {"t": "2021-09-10T13:10:00", "2TLEV1RT": 303, "2VLEV1RT": 141, "2SHEV1RT": 5070}, {"t": "2021-09-10T13:12:00", "2TLEV1RT": 238, "2VLEV1RT": 107, "2SHEV1RT": 4860}, {"t": "2021-09-10T13:13:38", "2SHEV1RT": 200000}, {"t": "2021-09-10T13:13:44", "2SHEV1RT": 1}, {"t": "2021-09-10T13:14:00", "2TLEV1RT": 272, "2VLEV1RT": 123, "2SHEV1RT": 4980}, {"t": "2021-09-10T13:16:00", "2TLEV1RT": 220, "2VLEV1RT": 96, "2SHEV1RT": 4820}, {"t": "2021-09-10T13:18:00", "2TLEV1RT": 291, "2VLEV1RT": 134, "2SHEV1RT": 5010}, {"t": "2021-09-10T13:20:00", "2TLEV1RT": 245, "2VLEV1RT": 118, "2SHEV1RT": 4900}, {"t": "2021-09-10T13:20:29", "2TLEV1RT": 262, "2VLEV1RT": 120, "2SHEV1RT": 4950}
    ], "format": {"parse": {"t": "date"}}},
    "transform": [{"fold": ["2TLEV1RT", "2VLEV1RT", "2SHEV1RT"], "as": ["s", "rate"]}, {"filter": "isValid(datum.rate)"}],
    "mark": {"type": "line", "strokeWidth": 2.5, "clip": true},
    "encoding": {"y": {"field": "rate", "type": "quantitative", "scale": {"type": "log", "domain": [10, 61500]}, "axis": {"title": "Rate", "values": [10, 20, 30, 40, 50, 60, 70, 80, 90, 100, 200, 300, 400, 500, 600, 700, 800, 900, 1000, 2000, 3000, 4000, 5000, 6000, 7000, 8000, 9000, 10000, 20000, 30000, 40000, 50000], "labelExpr": "datum.value==10 ? '10¹' : datum.value==100 ? '10²' : datum.value==1000 ? '10³' : datum.value==10000 ? '10⁴' : ''", "labelOverlap": false, "tickDash": {"condition": {"test": "indexof([10,100,1000,10000], datum.value) >= 0", "value": []}, "value": [14, 100]}}},
      "color": {"field": "s", "type": "nominal", "scale": {"domain": ["2TLEV1RT", "2VLEV1RT", "2SHEV1RT"], "range": ["#1f77b4", "#ff7f0e", "#2ca02c"]}, "legend": {"title": null, "orient": "none", "legendX": 736, "legendY": 520, "symbolType": "M-1,0H8.14", "symbolSize": 196, "symbolStrokeWidth": 5, "labelOffset": 69}}}}
  ]
},
{
  "width": 1712, "height": 666,
  "encoding": {"x": {"field": "t", "type": "temporal", "scale": {"domain": [{"year": 2021, "month": 9, "date": 10, "hours": 5, "minutes": 19, "seconds": 16}, {"year": 2021, "month": 9, "date": 10, "hours": 13, "minutes": 42, "seconds": 42}]}, "axis": {"tickCount": 17, "grid": true, "gridColor": {"condition": {"test": "minutes(datum.value)==0", "value": "#b0b0b0"}, "value": "#bdbdbd"}, "gridDash": {"condition": {"test": "minutes(datum.value)==0", "value": []}, "value": [9, 6]}, "gridWidth": 2, "tickColor": {"condition": {"test": "minutes(datum.value)==0", "value": "black"}, "value": "transparent"}, "labels": false, "title": null}}},
  "layer": [
    {"data": {"values": [{"t": "2021-09-10T06:14:20", "t2": "2021-09-10T12:19:46"}], "format": {"parse": {"t": "date", "t2": "date"}}}, "mark": {"type": "rect", "color": "#d62728", "opacity": 0.06}, "encoding": {"x2": {"field": "t2"}}},
    {"data": {"values": [{"t": "2021-09-10T06:14:20"}, {"t": "2021-09-10T12:19:46"}, {"t": "2021-09-10T13:13:41"}, {"t": "2021-09-10T13:19:43"}], "format": {"parse": {"t": "date"}}}, "mark": {"type": "rule", "color": "black", "strokeWidth": 2}, "encoding": {}},
    {"data": {"values": [
      {"t": "2021-09-10T05:41:31", "s": "2P15VBVL", "v": 14.49}, {"t": "2021-09-10T13:19:50", "s": "2P15VBVL", "v": 14.49}, {"t": "2021-09-10T13:20:10", "s": "2P15VBVL", "v": 2.6},
      {"t": "2021-09-10T05:41:31", "s": "2N15VBVL", "v": -14.42}, {"t": "2021-09-10T06:10:00", "s": "2N15VBVL", "v": -14.52}, {"t": "2021-09-10T06:40:00", "s": "2N15VBVL", "v": -14.4}, {"t": "2021-09-10T07:10:00", "s": "2N15VBVL", "v": -14.5}, {"t": "2021-09-10T07:40:00", "s": "2N15VBVL", "v": -14.44}, {"t": "2021-09-10T08:10:00", "s": "2N15VBVL", "v": -14.53}, {"t": "2021-09-10T08:40:00", "s": "2N15VBVL", "v": -14.41}, {"t": "2021-09-10T09:10:00", "s": "2N15VBVL", "v": -14.49}, {"t": "2021-09-10T09:40:00", "s": "2N15VBVL", "v": -14.43}, {"t": "2021-09-10T10:10:00", "s": "2N15VBVL", "v": -14.52}, {"t": "2021-09-10T10:40:00", "s": "2N15VBVL", "v": -14.42}, {"t": "2021-09-10T11:10:00", "s": "2N15VBVL", "v": -14.5}, {"t": "2021-09-10T11:40:00", "s": "2N15VBVL", "v": -14.41}, {"t": "2021-09-10T12:10:00", "s": "2N15VBVL", "v": -14.51}, {"t": "2021-09-10T12:40:00", "s": "2N15VBVL", "v": -14.43}, {"t": "2021-09-10T13:10:00", "s": "2N15VBVL", "v": -14.49}, {"t": "2021-09-10T13:20:29", "s": "2N15VBVL", "v": -14.44},
      {"t": "2021-09-10T05:41:31", "s": "2P05VBVL", "v": 4.79}, {"t": "2021-09-10T13:20:29", "s": "2P05VBVL", "v": 4.79}
    ], "format": {"parse": {"t": "date"}}}, "mark": {"type": "line", "strokeWidth": 7, "clip": true}, "encoding": {"y": {"field": "v", "type": "quantitative", "scale": {"domain": [-20, 20]}, "axis": {"title": "Volt", "values": [-20, -15, -10, -5, 0, 5, 10, 15, 20]}}, "color": {"field": "s", "type": "nominal", "scale": {"domain": ["2P15VBVL", "2N15VBVL", "2P05VBVL"], "range": ["#1f77b4", "#ff7f0e", "#2ca02c"]}, "legend": {"title": null, "orient": "none", "legendX": 736, "legendY": 266, "symbolType": "M-1,0H8.14", "symbolSize": 196, "symbolStrokeWidth": 7, "labelOffset": 69}}}}
  ]
},
{
  "width": 1712, "height": 666,
  "encoding": {"x": {"field": "t", "type": "temporal", "scale": {"domain": [{"year": 2021, "month": 9, "date": 10, "hours": 5, "minutes": 19, "seconds": 16}, {"year": 2021, "month": 9, "date": 10, "hours": 13, "minutes": 42, "seconds": 42}]}, "axis": {"tickCount": 17, "grid": true, "gridColor": {"condition": {"test": "minutes(datum.value)==0", "value": "#b0b0b0"}, "value": "#bdbdbd"}, "gridDash": {"condition": {"test": "minutes(datum.value)==0", "value": []}, "value": [9, 6]}, "gridWidth": 2, "tickColor": {"condition": {"test": "minutes(datum.value)==0", "value": "black"}, "value": "transparent"}, "labels": false, "title": null}}},
  "layer": [
    {"data": {"values": [{"t": "2021-09-10T06:14:20", "t2": "2021-09-10T12:19:46"}], "format": {"parse": {"t": "date", "t2": "date"}}}, "mark": {"type": "rect", "color": "#d62728", "opacity": 0.06}, "encoding": {"x2": {"field": "t2"}}},
    {"data": {"values": [{"t": "2021-09-10T06:14:20"}, {"t": "2021-09-10T12:19:46"}, {"t": "2021-09-10T13:13:41"}, {"t": "2021-09-10T13:19:43"}], "format": {"parse": {"t": "date"}}}, "mark": {"type": "rule", "color": "black", "strokeWidth": 2}, "encoding": {}},
    {"data": {"values": [
      {"t": "2021-09-10T05:42:17", "2IMHVLV": 99.7, "2IMHBLV": 105.9}, {"t": "2021-09-10T05:45:00", "2IMHVLV": 99.7, "2IMHBLV": 105.9}, {"t": "2021-09-10T05:48:00", "2IMHVLV": 99.7, "2IMHBLV": 105.9}, {"t": "2021-09-10T05:51:00", "2IMHVLV": 99.7, "2IMHBLV": 105.9}, {"t": "2021-09-10T05:54:00", "2IMHVLV": 99.7, "2IMHBLV": 105.9}, {"t": "2021-09-10T05:57:00", "2IMHVLV": 99.7, "2IMHBLV": 105.9}, {"t": "2021-09-10T06:00:00", "2IMHVLV": 99.7, "2IMHBLV": 105.9}, {"t": "2021-09-10T06:03:00", "2IMHVLV": 99.7, "2IMHBLV": 105.9}, {"t": "2021-09-10T06:06:00", "2IMHVLV": 99.7, "2IMHBLV": 105.9}, {"t": "2021-09-10T06:09:00", "2IMHVLV": 99.7, "2IMHBLV": 105.9}, {"t": "2021-09-10T06:12:00", "2IMHVLV": 99.7, "2IMHBLV": 105.9}, {"t": "2021-09-10T06:15:00", "2IMHVLV": 99.7, "2IMHBLV": 105.9}, {"t": "2021-09-10T06:18:00", "2IMHVLV": 99.7, "2IMHBLV": 105.9}, {"t": "2021-09-10T06:21:00", "2IMHVLV": 99.7, "2IMHBLV": 105.9}, {"t": "2021-09-10T06:24:00", "2IMHVLV": 99.7, "2IMHBLV": 105.9}, {"t": "2021-09-10T06:27:00", "2IMHVLV": 99.7, "2IMHBLV": 105.9}, {"t": "2021-09-10T06:30:00", "2IMHVLV": 99.7, "2IMHBLV": 105.9}, {"t": "2021-09-10T06:33:00", "2IMHVLV": 99.7, "2IMHBLV": 105.9}, {"t": "2021-09-10T06:36:00", "2IMHVLV": 99.7, "2IMHBLV": 105.9}, {"t": "2021-09-10T06:39:00", "2IMHVLV": 99.7, "2IMHBLV": 105.9}, {"t": "2021-09-10T06:41:40", "2IMHVLV": 99.7, "2IMHBLV": 105.9},
      {"t": "2021-09-10T06:41:54", "2SPHBLV": 127.9, "2SPHVLV": 126.4}, {"t": "2021-09-10T06:43:00", "2SPHBLV": 116.5}, {"t": "2021-09-10T06:43:06", "2SPHBLV": 102.1}, {"t": "2021-09-10T06:43:24", "2SPHVLV": 96.5}, {"t": "2021-09-10T06:44:06", "2SPHVLV": 91.0}, {"t": "2021-09-10T06:44:30", "2SPHBLV": 91.9, "2SPHVLV": 85.6}, {"t": "2021-09-10T06:44:54", "2SPHBLV": 86.4}, {"t": "2021-09-10T06:45:18", "2SPHVLV": 80.6}, {"t": "2021-09-10T06:45:36", "2SPHBLV": 81.8, "2SPHVLV": 75.1},
      {"t": "2021-09-10T06:47:00", "2SPHBLV": 77.2, "2SPHVLV": 71.1}, {"t": "2021-09-10T06:50:00", "2SPHBLV": 77.2, "2SPHVLV": 71.1}, {"t": "2021-09-10T06:53:00", "2SPHBLV": 77.2, "2SPHVLV": 71.1}, {"t": "2021-09-10T06:56:00", "2SPHBLV": 77.2, "2SPHVLV": 71.1}, {"t": "2021-09-10T06:59:00", "2SPHBLV": 77.2, "2SPHVLV": 71.1},
      {"t": "2021-09-10T07:02:00", "2SPHBLV": 77.2, "2SPHVLV": 71.1}, {"t": "2021-09-10T07:05:00", "2SPHBLV": 77.2, "2SPHVLV": 71.1}, {"t": "2021-09-10T07:08:00", "2SPHBLV": 77.2, "2SPHVLV": 71.1}, {"t": "2021-09-10T07:11:00", "2SPHBLV": 77.2, "2SPHVLV": 71.1}, {"t": "2021-09-10T07:14:00", "2SPHBLV": 77.2, "2SPHVLV": 71.1}, {"t": "2021-09-10T07:17:00", "2SPHBLV": 77.2, "2SPHVLV": 71.1}, {"t": "2021-09-10T07:20:00", "2SPHBLV": 77.2, "2SPHVLV": 71.1}, {"t": "2021-09-10T07:23:00", "2SPHBLV": 77.2, "2SPHVLV": 71.1}, {"t": "2021-09-10T07:26:00", "2SPHBLV": 77.2, "2SPHVLV": 71.1}, {"t": "2021-09-10T07:29:00", "2SPHBLV": 77.2, "2SPHVLV": 71.1}, {"t": "2021-09-10T07:32:00", "2SPHBLV": 77.2, "2SPHVLV": 71.1}, {"t": "2021-09-10T07:35:00", "2SPHBLV": 77.2, "2SPHVLV": 71.1}, {"t": "2021-09-10T07:38:00", "2SPHBLV": 77.2, "2SPHVLV": 71.1}, {"t": "2021-09-10T07:41:00", "2SPHBLV": 77.2, "2SPHVLV": 71.1}, {"t": "2021-09-10T07:44:00", "2SPHBLV": 77.2, "2SPHVLV": 71.1}, {"t": "2021-09-10T07:47:00", "2SPHBLV": 77.2, "2SPHVLV": 71.1}, {"t": "2021-09-10T07:50:00", "2SPHBLV": 77.2, "2SPHVLV": 71.1}, {"t": "2021-09-10T07:53:00", "2SPHBLV": 77.2, "2SPHVLV": 71.1}, {"t": "2021-09-10T07:56:00", "2SPHBLV": 77.2, "2SPHVLV": 71.1}, {"t": "2021-09-10T07:59:00", "2SPHBLV": 77.2, "2SPHVLV": 71.1},
      {"t": "2021-09-10T08:02:00", "2SPHBLV": 77.2, "2SPHVLV": 71.1}, {"t": "2021-09-10T08:05:00", "2SPHBLV": 77.2, "2SPHVLV": 71.1}, {"t": "2021-09-10T08:08:00", "2SPHBLV": 77.2, "2SPHVLV": 71.1}, {"t": "2021-09-10T08:11:00", "2SPHBLV": 77.2, "2SPHVLV": 71.1}, {"t": "2021-09-10T08:14:00", "2SPHBLV": 77.2, "2SPHVLV": 71.1}, {"t": "2021-09-10T08:17:00", "2SPHBLV": 77.2, "2SPHVLV": 71.1}, {"t": "2021-09-10T08:20:00", "2SPHBLV": 77.2, "2SPHVLV": 71.1}, {"t": "2021-09-10T08:23:00", "2SPHBLV": 77.2, "2SPHVLV": 71.1}, {"t": "2021-09-10T08:26:00", "2SPHBLV": 77.2, "2SPHVLV": 71.1}, {"t": "2021-09-10T08:29:00", "2SPHBLV": 77.2, "2SPHVLV": 71.1}, {"t": "2021-09-10T08:32:00", "2SPHBLV": 77.2, "2SPHVLV": 71.1}, {"t": "2021-09-10T08:35:00", "2SPHBLV": 77.2, "2SPHVLV": 71.1}, {"t": "2021-09-10T08:38:00", "2SPHBLV": 77.2, "2SPHVLV": 71.1}, {"t": "2021-09-10T08:41:00", "2SPHBLV": 77.2, "2SPHVLV": 71.1}, {"t": "2021-09-10T08:44:00", "2SPHBLV": 77.2, "2SPHVLV": 71.1}, {"t": "2021-09-10T08:47:00", "2SPHBLV": 77.2, "2SPHVLV": 71.1}, {"t": "2021-09-10T08:50:00", "2SPHBLV": 77.2, "2SPHVLV": 71.1}, {"t": "2021-09-10T08:53:00", "2SPHBLV": 77.2, "2SPHVLV": 71.1}, {"t": "2021-09-10T08:56:00", "2SPHBLV": 77.2, "2SPHVLV": 71.1}, {"t": "2021-09-10T08:59:00", "2SPHBLV": 77.2, "2SPHVLV": 71.1},
      {"t": "2021-09-10T09:02:00", "2SPHBLV": 77.2, "2SPHVLV": 71.1}, {"t": "2021-09-10T09:05:00", "2SPHBLV": 77.2, "2SPHVLV": 71.1}, {"t": "2021-09-10T09:08:00", "2SPHBLV": 77.2, "2SPHVLV": 71.1}, {"t": "2021-09-10T09:11:00", "2SPHBLV": 77.2, "2SPHVLV": 71.1}, {"t": "2021-09-10T09:14:00", "2SPHBLV": 77.2, "2SPHVLV": 71.1}, {"t": "2021-09-10T09:17:00", "2SPHBLV": 77.2, "2SPHVLV": 71.1}, {"t": "2021-09-10T09:20:00", "2SPHBLV": 77.2, "2SPHVLV": 71.1}, {"t": "2021-09-10T09:23:00", "2SPHBLV": 77.2, "2SPHVLV": 71.1}, {"t": "2021-09-10T09:26:00", "2SPHBLV": 77.2, "2SPHVLV": 71.1}, {"t": "2021-09-10T09:29:00", "2SPHBLV": 77.2, "2SPHVLV": 71.1}, {"t": "2021-09-10T09:32:00", "2SPHBLV": 77.2, "2SPHVLV": 71.1}, {"t": "2021-09-10T09:35:00", "2SPHBLV": 77.2, "2SPHVLV": 71.1}, {"t": "2021-09-10T09:38:00", "2SPHBLV": 77.2, "2SPHVLV": 71.1}, {"t": "2021-09-10T09:41:00", "2SPHBLV": 77.2, "2SPHVLV": 71.1}, {"t": "2021-09-10T09:44:00", "2SPHBLV": 77.2, "2SPHVLV": 71.1}, {"t": "2021-09-10T09:47:00", "2SPHBLV": 77.2, "2SPHVLV": 71.1}, {"t": "2021-09-10T09:50:00", "2SPHBLV": 77.2, "2SPHVLV": 71.1}, {"t": "2021-09-10T09:53:00", "2SPHBLV": 77.2, "2SPHVLV": 71.1}, {"t": "2021-09-10T09:56:00", "2SPHBLV": 77.2, "2SPHVLV": 71.1}, {"t": "2021-09-10T09:59:00", "2SPHBLV": 77.2, "2SPHVLV": 71.1},
      {"t": "2021-09-10T10:02:00", "2SPHBLV": 77.2, "2SPHVLV": 71.1}, {"t": "2021-09-10T10:05:00", "2SPHBLV": 77.2, "2SPHVLV": 71.1}, {"t": "2021-09-10T10:08:00", "2SPHBLV": 77.2, "2SPHVLV": 71.1}, {"t": "2021-09-10T10:11:00", "2SPHBLV": 77.2, "2SPHVLV": 71.1}, {"t": "2021-09-10T10:14:00", "2SPHBLV": 77.2, "2SPHVLV": 71.1}, {"t": "2021-09-10T10:17:00", "2SPHBLV": 77.2, "2SPHVLV": 71.1}, {"t": "2021-09-10T10:20:00", "2SPHBLV": 77.2, "2SPHVLV": 71.1}, {"t": "2021-09-10T10:23:00", "2SPHBLV": 77.2, "2SPHVLV": 71.1}, {"t": "2021-09-10T10:26:00", "2SPHBLV": 77.2, "2SPHVLV": 71.1}, {"t": "2021-09-10T10:29:00", "2SPHBLV": 77.2, "2SPHVLV": 71.1}, {"t": "2021-09-10T10:32:00", "2SPHBLV": 77.2, "2SPHVLV": 71.1}, {"t": "2021-09-10T10:35:00", "2SPHBLV": 77.2, "2SPHVLV": 71.1}, {"t": "2021-09-10T10:38:00", "2SPHBLV": 77.2, "2SPHVLV": 71.1}, {"t": "2021-09-10T10:41:00", "2SPHBLV": 77.2, "2SPHVLV": 71.1}, {"t": "2021-09-10T10:44:00", "2SPHBLV": 77.2, "2SPHVLV": 71.1}, {"t": "2021-09-10T10:47:00", "2SPHBLV": 77.2, "2SPHVLV": 71.1}, {"t": "2021-09-10T10:50:00", "2SPHBLV": 77.2, "2SPHVLV": 71.1}, {"t": "2021-09-10T10:53:00", "2SPHBLV": 77.2, "2SPHVLV": 71.1}, {"t": "2021-09-10T10:56:00", "2SPHBLV": 77.2, "2SPHVLV": 71.1}, {"t": "2021-09-10T10:59:00", "2SPHBLV": 77.2, "2SPHVLV": 71.1},
      {"t": "2021-09-10T11:02:00", "2SPHBLV": 77.2, "2SPHVLV": 71.1}, {"t": "2021-09-10T11:05:00", "2SPHBLV": 77.2, "2SPHVLV": 71.1}, {"t": "2021-09-10T11:08:00", "2SPHBLV": 77.2, "2SPHVLV": 71.1}, {"t": "2021-09-10T11:11:00", "2SPHBLV": 77.2, "2SPHVLV": 71.1}, {"t": "2021-09-10T11:14:00", "2SPHBLV": 77.2, "2SPHVLV": 71.1}, {"t": "2021-09-10T11:17:00", "2SPHBLV": 77.2, "2SPHVLV": 71.1}, {"t": "2021-09-10T11:20:00", "2SPHBLV": 77.2, "2SPHVLV": 71.1}, {"t": "2021-09-10T11:23:00", "2SPHBLV": 77.2, "2SPHVLV": 71.1}, {"t": "2021-09-10T11:26:00", "2SPHBLV": 77.2, "2SPHVLV": 71.1}, {"t": "2021-09-10T11:29:00", "2SPHBLV": 77.2, "2SPHVLV": 71.1}, {"t": "2021-09-10T11:32:00", "2SPHBLV": 77.2, "2SPHVLV": 71.1}, {"t": "2021-09-10T11:35:00", "2SPHBLV": 77.2, "2SPHVLV": 71.1}, {"t": "2021-09-10T11:38:00", "2SPHBLV": 77.2, "2SPHVLV": 71.1}, {"t": "2021-09-10T11:41:00", "2SPHBLV": 77.2, "2SPHVLV": 71.1}, {"t": "2021-09-10T11:44:00", "2SPHBLV": 77.2, "2SPHVLV": 71.1}, {"t": "2021-09-10T11:47:00", "2SPHBLV": 77.2, "2SPHVLV": 71.1}, {"t": "2021-09-10T11:50:00", "2SPHBLV": 77.2, "2SPHVLV": 71.1}, {"t": "2021-09-10T11:53:00", "2SPHBLV": 77.2, "2SPHVLV": 71.1}, {"t": "2021-09-10T11:56:00", "2SPHBLV": 77.2, "2SPHVLV": 71.1}, {"t": "2021-09-10T11:59:00", "2SPHBLV": 77.2, "2SPHVLV": 71.1},
      {"t": "2021-09-10T12:02:00", "2SPHBLV": 77.2, "2SPHVLV": 71.1}, {"t": "2021-09-10T12:05:00", "2SPHBLV": 77.2, "2SPHVLV": 71.1}, {"t": "2021-09-10T12:08:00", "2SPHBLV": 77.2, "2SPHVLV": 71.1}, {"t": "2021-09-10T12:11:00", "2SPHBLV": 77.2, "2SPHVLV": 71.1}, {"t": "2021-09-10T12:14:00", "2SPHBLV": 77.2, "2SPHVLV": 71.1}, {"t": "2021-09-10T12:17:00", "2SPHBLV": 77.2, "2SPHVLV": 71.1}, {"t": "2021-09-10T12:20:00", "2SPHBLV": 77.2, "2SPHVLV": 71.1}, {"t": "2021-09-10T12:23:00", "2SPHBLV": 77.2, "2SPHVLV": 71.1}, {"t": "2021-09-10T12:26:00", "2SPHBLV": 77.2, "2SPHVLV": 71.1}, {"t": "2021-09-10T12:29:00", "2SPHBLV": 77.2, "2SPHVLV": 71.1}, {"t": "2021-09-10T12:32:00", "2SPHBLV": 77.2, "2SPHVLV": 71.1}, {"t": "2021-09-10T12:35:00", "2SPHBLV": 77.2, "2SPHVLV": 71.1}, {"t": "2021-09-10T12:38:00", "2SPHBLV": 77.2, "2SPHVLV": 71.1}, {"t": "2021-09-10T12:41:00", "2SPHBLV": 77.2, "2SPHVLV": 71.1}, {"t": "2021-09-10T12:44:00", "2SPHBLV": 77.2, "2SPHVLV": 71.1}, {"t": "2021-09-10T12:47:00", "2SPHBLV": 77.2, "2SPHVLV": 71.1}, {"t": "2021-09-10T12:50:00", "2SPHBLV": 77.2, "2SPHVLV": 71.1}, {"t": "2021-09-10T12:53:00", "2SPHBLV": 77.2, "2SPHVLV": 71.1}, {"t": "2021-09-10T12:56:00", "2SPHBLV": 77.2, "2SPHVLV": 71.1}, {"t": "2021-09-10T12:59:00", "2SPHBLV": 77.2, "2SPHVLV": 71.1},
      {"t": "2021-09-10T13:02:00", "2SPHBLV": 77.2, "2SPHVLV": 71.1}, {"t": "2021-09-10T13:05:00", "2SPHBLV": 77.2, "2SPHVLV": 71.1}, {"t": "2021-09-10T13:08:00", "2SPHBLV": 77.2, "2SPHVLV": 71.1}, {"t": "2021-09-10T13:11:00", "2SPHBLV": 77.2, "2SPHVLV": 71.1}, {"t": "2021-09-10T13:13:41", "2IMHBLV": 254.6}, {"t": "2021-09-10T13:13:47", "2IMHBLV": 15.8, "2IMHVLV": 62.8}, {"t": "2021-09-10T13:14:00", "2SPHBLV": 77.2, "2SPHVLV": 71.1}, {"t": "2021-09-10T13:17:00", "2SPHBLV": 77.2, "2SPHVLV": 71.1}, {"t": "2021-09-10T13:20:00", "2SPHBLV": 77.2, "2SPHVLV": 71.1}
    ], "format": {"parse": {"t": "date"}}},
    "transform": [{"fold": ["2SPHBLV", "2SPHVLV", "2IMHVLV", "2IMHBLV"], "as": ["s", "v"]}, {"filter": "isValid(datum.v)"}],
    "mark": {"type": "point", "filled": true, "size": 130, "opacity": 1, "clip": true},
    "encoding": {"y": {"field": "v", "type": "quantitative", "scale": {"domain": [0, 266.5]}, "axis": {"title": "HV Monitor", "values": [0, 50, 100, 150, 200, 250]}},
      "color": {"field": "s", "type": "nominal", "scale": {"domain": ["2SPHBLV", "2SPHVLV", "2IMHVLV", "2IMHBLV"], "range": ["#1f77b4", "#ff7f0e", "#2ca02c", "#d62728"]}, "legend": {"title": null, "orient": "none", "legendX": 746, "legendY": 15, "symbolType": "circle", "symbolSize": 110, "symbolStrokeWidth": 0, "symbolOffset": 21, "labelOffset": 44}}}}
  ]
},
{
  "width": 1712, "height": 666,
  "encoding": {"x": {"field": "t", "type": "temporal", "scale": {"domain": [{"year": 2021, "month": 9, "date": 10, "hours": 5, "minutes": 19, "seconds": 16}, {"year": 2021, "month": 9, "date": 10, "hours": 13, "minutes": 42, "seconds": 42}]}, "axis": {"tickCount": 17, "grid": true, "gridColor": {"condition": {"test": "minutes(datum.value)==0", "value": "#b0b0b0"}, "value": "#bdbdbd"}, "gridDash": {"condition": {"test": "minutes(datum.value)==0", "value": []}, "value": [9, 6]}, "gridWidth": 2, "tickColor": {"condition": {"test": "minutes(datum.value)==0", "value": "black"}, "value": "transparent"}, "labels": false, "title": null}}},
  "layer": [
    {"data": {"values": [{"t": "2021-09-10T06:14:20", "t2": "2021-09-10T12:19:46"}], "format": {"parse": {"t": "date", "t2": "date"}}}, "mark": {"type": "rect", "color": "#d62728", "opacity": 0.06}, "encoding": {"x2": {"field": "t2"}}},
    {"data": {"values": [{"t": "2021-09-10T06:14:20"}, {"t": "2021-09-10T12:19:46"}, {"t": "2021-09-10T13:13:41"}, {"t": "2021-09-10T13:19:43"}], "format": {"parse": {"t": "date"}}}, "mark": {"type": "rule", "color": "black", "strokeWidth": 2}, "encoding": {}},
    {"data": {"values": [
      {"t": "2021-09-10T05:41:31", "s": "2SPINATM", "v": 16.99}, {"t": "2021-09-10T10:26:45", "s": "2SPINATM", "v": 17.7}, {"t": "2021-09-10T10:27:15", "s": "2SPINATM", "v": 16.99}, {"t": "2021-09-10T10:43:13", "s": "2SPINATM", "v": 17.64}, {"t": "2021-09-10T12:56:10", "s": "2SPINATM", "v": 18.29}, {"t": "2021-09-10T12:56:40", "s": "2SPINATM", "v": 17.64}, {"t": "2021-09-10T12:58:59", "s": "2SPINATM", "v": 18.29}, {"t": "2021-09-10T13:20:29", "s": "2SPINATM", "v": 18.29},
      {"t": "2021-09-10T05:41:31", "s": "2SPHVATM", "v": 29.2}, {"t": "2021-09-10T06:43:45", "s": "2SPHVATM", "v": 28.84}, {"t": "2021-09-10T06:50:32", "s": "2SPHVATM", "v": 29.2}, {"t": "2021-09-10T06:56:57", "s": "2SPHVATM", "v": 29.99}, {"t": "2021-09-10T07:08:16", "s": "2SPHVATM", "v": 30.42}, {"t": "2021-09-10T07:17:41", "s": "2SPHVATM", "v": 30.8}, {"t": "2021-09-10T07:27:07", "s": "2SPHVATM", "v": 31.14}, {"t": "2021-09-10T07:44:05", "s": "2SPHVATM", "v": 31.55}, {"t": "2021-09-10T08:00:40", "s": "2SPHVATM", "v": 31.93}, {"t": "2021-09-10T08:01:30", "s": "2SPHVATM", "v": 31.55}, {"t": "2021-09-10T08:02:57", "s": "2SPHVATM", "v": 31.93}, {"t": "2021-09-10T08:07:40", "s": "2SPHVATM", "v": 31.5}, {"t": "2021-09-10T08:08:10", "s": "2SPHVATM", "v": 31.93}, {"t": "2021-09-10T08:31:14", "s": "2SPHVATM", "v": 32.35}, {"t": "2021-09-10T08:42:20", "s": "2SPHVATM", "v": 31.93}, {"t": "2021-09-10T08:42:50", "s": "2SPHVATM", "v": 32.35}, {"t": "2021-09-10T08:51:00", "s": "2SPHVATM", "v": 32.8}, {"t": "2021-09-10T08:51:30", "s": "2SPHVATM", "v": 32.35}, {"t": "2021-09-10T09:08:56", "s": "2SPHVATM", "v": 32.72}, {"t": "2021-09-10T09:57:13", "s": "2SPHVATM", "v": 33.14}, {"t": "2021-09-10T10:47:50", "s": "2SPHVATM", "v": 33.58}, {"t": "2021-09-10T10:48:20", "s": "2SPHVATM", "v": 33.14}, {"t": "2021-09-10T10:59:26", "s": "2SPHVATM", "v": 33.58}, {"t": "2021-09-10T12:07:19", "s": "2SPHVATM", "v": 33.98}, {"t": "2021-09-10T13:08:24", "s": "2SPHVATM", "v": 34.4}, {"t": "2021-09-10T13:20:29", "s": "2SPHVATM", "v": 34.4},
      {"t": "2021-09-10T05:41:31", "s": "2IMINATM", "v": 17.64}, {"t": "2021-09-10T09:25:09", "s": "2IMINATM", "v": 18.3}, {"t": "2021-09-10T09:33:15", "s": "2IMINATM", "v": 17.64}, {"t": "2021-09-10T09:33:45", "s": "2IMINATM", "v": 18.3}, {"t": "2021-09-10T11:31:07", "s": "2IMINATM", "v": 18.95}, {"t": "2021-09-10T13:20:29", "s": "2IMINATM", "v": 18.95},
      {"t": "2021-09-10T05:41:31", "s": "2IMHVATM", "v": 29.97}, {"t": "2021-09-10T06:54:18", "s": "2IMHVATM", "v": 29.61}, {"t": "2021-09-10T07:06:22", "s": "2IMHVATM", "v": 29.22}, {"t": "2021-09-10T07:12:02", "s": "2IMHVATM", "v": 29.61}, {"t": "2021-09-10T07:38:20", "s": "2IMHVATM", "v": 30.05}, {"t": "2021-09-10T07:38:50", "s": "2IMHVATM", "v": 29.61}, {"t": "2021-09-10T07:55:24", "s": "2IMHVATM", "v": 29.97}, {"t": "2021-09-10T07:59:40", "s": "2IMHVATM", "v": 29.55}, {"t": "2021-09-10T08:00:10", "s": "2IMHVATM", "v": 29.97}, {"t": "2021-09-10T08:06:30", "s": "2IMHVATM", "v": 29.55}, {"t": "2021-09-10T08:07:00", "s": "2IMHVATM", "v": 29.97}, {"t": "2021-09-10T08:54:59", "s": "2IMHVATM", "v": 30.35}, {"t": "2021-09-10T09:35:05", "s": "2IMHVATM", "v": 30.8}, {"t": "2021-09-10T09:35:35", "s": "2IMHVATM", "v": 30.35}, {"t": "2021-09-10T09:50:25", "s": "2IMHVATM", "v": 30.73}, {"t": "2021-09-10T10:35:25", "s": "2IMHVATM", "v": 31.2}, {"t": "2021-09-10T10:35:55", "s": "2IMHVATM", "v": 30.73}, {"t": "2021-09-10T10:43:45", "s": "2IMHVATM", "v": 31.2}, {"t": "2021-09-10T10:44:15", "s": "2IMHVATM", "v": 30.73}, {"t": "2021-09-10T10:52:39", "s": "2IMHVATM", "v": 31.13}, {"t": "2021-09-10T11:10:30", "s": "2IMHVATM", "v": 30.7}, {"t": "2021-09-10T11:11:00", "s": "2IMHVATM", "v": 31.13}, {"t": "2021-09-10T11:46:00", "s": "2IMHVATM", "v": 31.55}, {"t": "2021-09-10T11:46:30", "s": "2IMHVATM", "v": 31.13}, {"t": "2021-09-10T11:52:59", "s": "2IMHVATM", "v": 31.52}, {"t": "2021-09-10T12:52:34", "s": "2IMHVATM", "v": 31.93}, {"t": "2021-09-10T12:58:00", "s": "2IMHVATM", "v": 31.45}, {"t": "2021-09-10T12:58:30", "s": "2IMHVATM", "v": 31.93}, {"t": "2021-09-10T13:09:20", "s": "2IMHVATM", "v": 31.45}, {"t": "2021-09-10T13:09:50", "s": "2IMHVATM", "v": 31.93}, {"t": "2021-09-10T13:13:41", "s": "2IMHVATM", "v": 40}, {"t": "2021-09-10T13:13:47", "s": "2IMHVATM", "v": 10}, {"t": "2021-09-10T13:13:53", "s": "2IMHVATM", "v": 31.93}, {"t": "2021-09-10T13:20:29", "s": "2IMHVATM", "v": 31.93}
    ], "format": {"parse": {"t": "date"}}}, "mark": {"type": "line", "strokeWidth": 7, "interpolate": "step-after", "strokeJoin": "round", "clip": true}, "encoding": {"y": {"field": "v", "type": "quantitative", "scale": {"domain": [15.5, 35]}, "axis": {"title": "Detector Temp", "values": [17.5, 20, 22.5, 25, 27.5, 30, 32.5, 35], "format": ".1f"}}, "color": {"field": "s", "type": "nominal", "scale": {"domain": ["2SPINATM", "2SPHVATM", "2IMINATM", "2IMHVATM"], "range": ["#1f77b4", "#ff7f0e", "#2ca02c", "#d62728"]}, "legend": {"title": null, "orient": "none", "legendX": 733, "legendY": 245, "symbolType": "M-1,0H8.14", "symbolSize": 196, "symbolStrokeWidth": 7, "labelOffset": 69}}}}
  ]
},
{
  "width": 1712, "height": 666,
  "encoding": {"x": {"field": "t", "type": "temporal", "scale": {"domain": [{"year": 2021, "month": 9, "date": 10, "hours": 5, "minutes": 19, "seconds": 16}, {"year": 2021, "month": 9, "date": 10, "hours": 13, "minutes": 42, "seconds": 42}]}, "axis": {"tickCount": 17, "grid": true, "gridColor": {"condition": {"test": "minutes(datum.value)==0", "value": "#b0b0b0"}, "value": "#bdbdbd"}, "gridDash": {"condition": {"test": "minutes(datum.value)==0", "value": []}, "value": [9, 6]}, "gridWidth": 2, "tickColor": {"condition": {"test": "minutes(datum.value)==0", "value": "black"}, "value": "transparent"}, "labelExpr": "minutes(datum.value)==0 ? timeFormat(datum.value, '%Hh') : '30'", "labelFontSize": {"condition": {"test": "minutes(datum.value)==0", "value": 27}, "value": 18}, "labelBaseline": {"condition": {"test": "minutes(datum.value)==0", "value": "top"}, "value": "line-bottom"}, "labelLineHeight": 40, "labelPadding": 8, "labelFlush": false, "labelOverlap": false, "title": "2021-09-10 (253)", "titleFontSize": 33, "titlePadding": 8}}},
  "layer": [
    {"data": {"values": [{"t": "2021-09-10T06:14:20", "t2": "2021-09-10T12:19:46"}], "format": {"parse": {"t": "date", "t2": "date"}}}, "mark": {"type": "rect", "color": "#d62728", "opacity": 0.06}, "encoding": {"x2": {"field": "t2"}}},
    {"data": {"values": [{"t": "2021-09-10T06:14:20"}, {"t": "2021-09-10T12:19:46"}, {"t": "2021-09-10T13:13:41"}, {"t": "2021-09-10T13:19:43"}], "format": {"parse": {"t": "date"}}}, "mark": {"type": "rule", "color": "black", "strokeWidth": 2}, "encoding": {}},
    {"data": {"values": [
      {"t": "2021-09-10T05:41:31", "s": "2FHTRMZT", "v": 18.65}, {"t": "2021-09-10T06:21:52", "s": "2FHTRMZT", "v": 19.16}, {"t": "2021-09-10T07:08:38", "s": "2FHTRMZT", "v": 19.68}, {"t": "2021-09-10T08:03:19", "s": "2FHTRMZT", "v": 20.21}, {"t": "2021-09-10T08:58:45", "s": "2FHTRMZT", "v": 20.73}, {"t": "2021-09-10T09:54:34", "s": "2FHTRMZT", "v": 21.28}, {"t": "2021-09-10T10:53:24", "s": "2FHTRMZT", "v": 21.82}, {"t": "2021-09-10T11:53:22", "s": "2FHTRMZT", "v": 22.35}, {"t": "2021-09-10T12:59:44", "s": "2FHTRMZT", "v": 22.92}, {"t": "2021-09-10T13:20:29", "s": "2FHTRMZT", "v": 22.92},
      {"t": "2021-09-10T05:44:10", "s": "2FRADPYT", "v": 14.32}, {"t": "2021-09-10T06:09:48", "s": "2FRADPYT", "v": 14.78}, {"t": "2021-09-10T06:26:47", "s": "2FRADPYT", "v": 15.24}, {"t": "2021-09-10T07:11:17", "s": "2FRADPYT", "v": 15.72}, {"t": "2021-09-10T08:04:04", "s": "2FRADPYT", "v": 16.19}, {"t": "2021-09-10T08:56:29", "s": "2FRADPYT", "v": 16.67}, {"t": "2021-09-10T09:50:25", "s": "2FRADPYT", "v": 17.15}, {"t": "2021-09-10T10:45:06", "s": "2FRADPYT", "v": 17.65}, {"t": "2021-09-10T11:42:26", "s": "2FRADPYT", "v": 18.15}, {"t": "2021-09-10T12:50:41", "s": "2FRADPYT", "v": 18.65}, {"t": "2021-09-10T13:20:29", "s": "2FRADPYT", "v": 18.65},
      {"t": "2021-09-10T05:41:31", "s": "2FEPRATM", "v": 20.98}, {"t": "2021-09-10T07:06:45", "s": "2FEPRATM", "v": 21.69}, {"t": "2021-09-10T08:25:45", "s": "2FEPRATM", "v": 22.45}, {"t": "2021-09-10T08:26:15", "s": "2FEPRATM", "v": 21.69}, {"t": "2021-09-10T08:34:15", "s": "2FEPRATM", "v": 22.41}, {"t": "2021-09-10T09:56:35", "s": "2FEPRATM", "v": 23.2}, {"t": "2021-09-10T09:57:05", "s": "2FEPRATM", "v": 22.41}, {"t": "2021-09-10T10:00:59", "s": "2FEPRATM", "v": 23.15}, {"t": "2021-09-10T11:31:29", "s": "2FEPRATM", "v": 23.89}, {"t": "2021-09-10T13:10:17", "s": "2FEPRATM", "v": 24.59}, {"t": "2021-09-10T13:13:41", "s": "2FEPRATM", "v": 22.67}, {"t": "2021-09-10T13:13:50", "s": "2FEPRATM", "v": 24.59}, {"t": "2021-09-10T13:20:29", "s": "2FEPRATM", "v": 24.59},
      {"t": "2021-09-10T05:41:31", "s": "2FE00ATM", "v": 19.3}, {"t": "2021-09-10T05:54:43", "s": "2FE00ATM", "v": 19.59}, {"t": "2021-09-10T06:37:20", "s": "2FE00ATM", "v": 19.87}, {"t": "2021-09-10T06:49:10", "s": "2FE00ATM", "v": 20.22}, {"t": "2021-09-10T06:49:40", "s": "2FE00ATM", "v": 19.87}, {"t": "2021-09-10T06:57:30", "s": "2FE00ATM", "v": 20.22}, {"t": "2021-09-10T06:58:00", "s": "2FE00ATM", "v": 19.87}, {"t": "2021-09-10T07:05:25", "s": "2FE00ATM", "v": 20.22}, {"t": "2021-09-10T07:05:55", "s": "2FE00ATM", "v": 19.87}, {"t": "2021-09-10T07:16:56", "s": "2FE00ATM", "v": 20.2}, {"t": "2021-09-10T07:28:45", "s": "2FE00ATM", "v": 19.54}, {"t": "2021-09-10T07:29:15", "s": "2FE00ATM", "v": 20.2}, {"t": "2021-09-10T07:40:05", "s": "2FE00ATM", "v": 20.52}, {"t": "2021-09-10T07:40:35", "s": "2FE00ATM", "v": 20.2}, {"t": "2021-09-10T07:49:30", "s": "2FE00ATM", "v": 19.54}, {"t": "2021-09-10T07:50:00", "s": "2FE00ATM", "v": 20.2}, {"t": "2021-09-10T07:58:25", "s": "2FE00ATM", "v": 20.8}, {"t": "2021-09-10T07:58:55", "s": "2FE00ATM", "v": 20.5}, {"t": "2021-09-10T08:10:15", "s": "2FE00ATM", "v": 21.14}, {"t": "2021-09-10T08:10:45", "s": "2FE00ATM", "v": 20.5}, {"t": "2021-09-10T08:24:10", "s": "2FE00ATM", "v": 20.8}, {"t": "2021-09-10T08:24:40", "s": "2FE00ATM", "v": 20.5}, {"t": "2021-09-10T08:32:50", "s": "2FE00ATM", "v": 20.8}, {"t": "2021-09-10T08:33:20", "s": "2FE00ATM", "v": 20.5}, {"t": "2021-09-10T08:37:38", "s": "2FE00ATM", "v": 20.8}, {"t": "2021-09-10T08:51:00", "s": "2FE00ATM", "v": 20.45}, {"t": "2021-09-10T08:51:30", "s": "2FE00ATM", "v": 20.8}, {"t": "2021-09-10T09:03:00", "s": "2FE00ATM", "v": 19.25}, {"t": "2021-09-10T09:03:40", "s": "2FE00ATM", "v": 20.8}, {"t": "2021-09-10T09:06:50", "s": "2FE00ATM", "v": 18.98}, {"t": "2021-09-10T09:07:20", "s": "2FE00ATM", "v": 20.8}, {"t": "2021-09-10T09:09:30", "s": "2FE00ATM", "v": 20.44}, {"t": "2021-09-10T09:09:55", "s": "2FE00ATM", "v": 20.8}, {"t": "2021-09-10T09:14:45", "s": "2FE00ATM", "v": 20.15}, {"t": "2021-09-10T09:15:10", "s": "2FE00ATM", "v": 20.8}, {"t": "2021-09-10T09:18:10", "s": "2FE00ATM", "v": 22.39}, {"t": "2021-09-10T09:18:40", "s": "2FE00ATM", "v": 21.1}, {"t": "2021-09-10T09:24:35", "s": "2FE00ATM", "v": 20.44}, {"t": "2021-09-10T09:25:00", "s": "2FE00ATM", "v": 21.1}, {"t": "2021-09-10T09:40:45", "s": "2FE00ATM", "v": 20.75}, {"t": "2021-09-10T09:41:10", "s": "2FE00ATM", "v": 21.1}, {"t": "2021-09-10T09:48:20", "s": "2FE00ATM", "v": 20.75}, {"t": "2021-09-10T09:48:45", "s": "2FE00ATM", "v": 21.1}, {"t": "2021-09-10T10:00:59", "s": "2FE00ATM", "v": 21.4}, {"t": "2021-09-10T10:06:00", "s": "2FE00ATM", "v": 22.07}, {"t": "2021-09-10T10:06:30", "s": "2FE00ATM", "v": 21.4}, {"t": "2021-09-10T10:14:20", "s": "2FE00ATM", "v": 20.74}, {"t": "2021-09-10T10:14:45", "s": "2FE00ATM", "v": 21.4}, {"t": "2021-09-10T10:43:13", "s": "2FE00ATM", "v": 21.7}, {"t": "2021-09-10T10:51:20", "s": "2FE00ATM", "v": 21.36}, {"t": "2021-09-10T10:51:45", "s": "2FE00ATM", "v": 21.7}, {"t": "2021-09-10T11:27:43", "s": "2FE00ATM", "v": 22.03}, {"t": "2021-09-10T11:33:10", "s": "2FE00ATM", "v": 22.39}, {"t": "2021-09-10T11:33:35", "s": "2FE00ATM", "v": 22.03}, {"t": "2021-09-10T11:50:55", "s": "2FE00ATM", "v": 22.39}, {"t": "2021-09-10T11:51:20", "s": "2FE00ATM", "v": 22.03}, {"t": "2021-09-10T12:05:15", "s": "2FE00ATM", "v": 22.39}, {"t": "2021-09-10T12:05:40", "s": "2FE00ATM", "v": 22.03}, {"t": "2021-09-10T12:12:58", "s": "2FE00ATM", "v": 22.33}, {"t": "2021-09-10T12:19:10", "s": "2FE00ATM", "v": 21.99}, {"t": "2021-09-10T12:19:35", "s": "2FE00ATM", "v": 22.33}, {"t": "2021-09-10T12:23:20", "s": "2FE00ATM", "v": 21.67}, {"t": "2021-09-10T12:23:45", "s": "2FE00ATM", "v": 22.33}, {"t": "2021-09-10T12:46:00", "s": "2FE00ATM", "v": 22.72}, {"t": "2021-09-10T12:46:25", "s": "2FE00ATM", "v": 22.33}, {"t": "2021-09-10T12:50:30", "s": "2FE00ATM", "v": 23.35}, {"t": "2021-09-10T12:50:55", "s": "2FE00ATM", "v": 22.33}, {"t": "2021-09-10T12:56:55", "s": "2FE00ATM", "v": 22.03}, {"t": "2021-09-10T12:57:20", "s": "2FE00ATM", "v": 22.33}, {"t": "2021-09-10T13:03:30", "s": "2FE00ATM", "v": 22.67}, {"t": "2021-09-10T13:10:05", "s": "2FE00ATM", "v": 22.03}, {"t": "2021-09-10T13:10:30", "s": "2FE00ATM", "v": 22.67}, {"t": "2021-09-10T13:13:41", "s": "2FE00ATM", "v": 10}, {"t": "2021-09-10T13:13:50", "s": "2FE00ATM", "v": 22.67}, {"t": "2021-09-10T13:20:29", "s": "2FE00ATM", "v": 22.67}
    ], "format": {"parse": {"t": "date"}}}, "mark": {"type": "line", "strokeWidth": 7, "interpolate": "step-after", "strokeJoin": "round", "clip": true}, "encoding": {"y": {"field": "v", "type": "quantitative", "scale": {"domain": [14.2, 24.64]}, "axis": {"title": "FEA Temp", "values": [16, 18, 20, 22, 24]}}, "color": {"field": "s", "type": "nominal", "scale": {"domain": ["2FHTRMZT", "2FRADPYT", "2FEPRATM", "2FE00ATM"], "range": ["#1f77b4", "#ff7f0e", "#2ca02c", "#d62728"]}, "legend": {"title": null, "orient": "none", "legendX": 15, "legendY": 14, "symbolType": "M-1,0H8.14", "symbolSize": 196, "symbolStrokeWidth": 7, "labelOffset": 69}}}}
  ]
}
]
}
